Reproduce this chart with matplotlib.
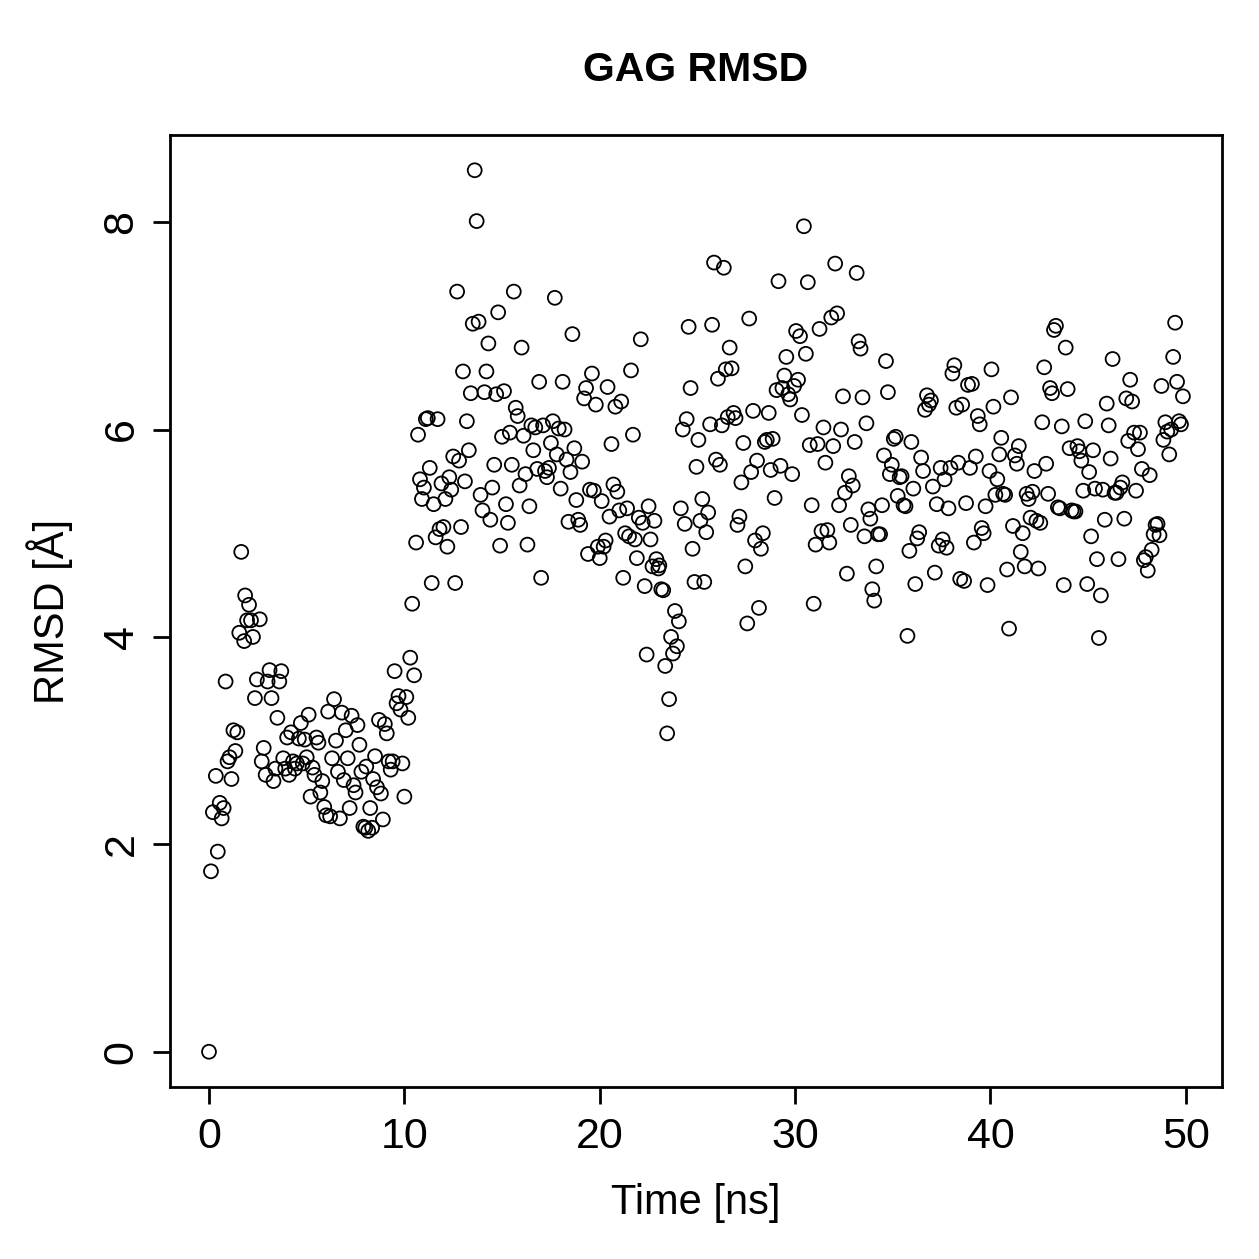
import matplotlib
matplotlib.use("Agg")
import matplotlib.pyplot as plt

time_ns = [0, 0.1, 0.2, 0.35, 0.45, 0.55, 0.65, 0.75, 0.85, 0.95, 1.05, 1.15, 1.25, 1.35, 1.45, 1.55, 1.65, 1.8, 1.85, 1.95,
           2.05, 2.15, 2.25, 2.35, 2.45, 2.6, 2.7, 2.8, 2.9, 3.0, 3.1, 3.2, 3.3, 3.4, 3.5, 3.6, 3.7, 3.8, 3.9, 4.0,
           4.1, 4.2, 4.3, 4.4, 4.5, 4.6, 4.7, 4.8, 4.9, 5.0, 5.1, 5.2, 5.3, 5.4, 5.5, 5.6, 5.7, 5.8, 5.9, 6.0,
           6.1, 6.2, 6.3, 6.4, 6.5, 6.6, 6.7, 6.8, 6.9, 7.0, 7.1, 7.2, 7.3, 7.4, 7.5, 7.6, 7.7, 7.8, 7.9, 8.0,
           8.05, 8.15, 8.25, 8.35, 8.4, 8.5, 8.6, 8.7, 8.8, 8.9, 9.0, 9.1, 9.2, 9.3, 9.4, 9.5, 9.6, 9.7, 9.8, 9.9,
           10.0, 10.1, 10.2, 10.3, 10.4, 10.5, 10.6, 10.7, 10.8, 10.9, 11.0, 11.1, 11.2, 11.3, 11.4, 11.5, 11.6, 11.7, 11.8, 11.9,
           12.0, 12.1, 12.2, 12.3, 12.4, 12.5, 12.6, 12.7, 12.8, 12.9, 13.0, 13.1, 13.2, 13.3, 13.4, 13.5, 13.6, 13.7, 13.8, 13.9,
           14.0, 14.1, 14.2, 14.3, 14.4, 14.5, 14.6, 14.7, 14.8, 14.9, 15.0, 15.1, 15.2, 15.3, 15.4, 15.5, 15.6, 15.7, 15.8, 15.9,
           16.0, 16.1, 16.2, 16.3, 16.4, 16.5, 16.6, 16.7, 16.8, 16.9, 17.0, 17.1, 17.2, 17.3, 17.4, 17.5, 17.6, 17.7, 17.8, 17.9,
           18.0, 18.1, 18.2, 18.3, 18.4, 18.5, 18.6, 18.7, 18.8, 18.9, 19.0, 19.1, 19.2, 19.3, 19.4, 19.5, 19.6, 19.7, 19.8, 19.9,
           20.0, 20.1, 20.2, 20.3, 20.4, 20.5, 20.6, 20.7, 20.8, 20.9, 21.0, 21.1, 21.2, 21.3, 21.4, 21.5, 21.6, 21.7, 21.8, 21.9,
           22.0, 22.1, 22.2, 22.3, 22.4, 22.5, 22.6, 22.7, 22.8, 22.9, 23.0, 23.05, 23.15, 23.25, 23.35, 23.45, 23.55, 23.65, 23.75, 23.85,
           23.95, 24.05, 24.15, 24.25, 24.35, 24.45, 24.55, 24.65, 24.75, 24.85, 24.95, 25.05, 25.15, 25.25, 25.35, 25.45, 25.55, 25.65, 25.75, 25.85,
           25.95, 26.05, 26.15, 26.25, 26.35, 26.45, 26.55, 26.65, 26.75, 26.85, 26.95, 27.05, 27.15, 27.25, 27.35, 27.45, 27.55, 27.65, 27.75, 27.85,
           27.95, 28.05, 28.15, 28.25, 28.35, 28.45, 28.55, 28.65, 28.75, 28.85, 28.95, 29.05, 29.15, 29.25, 29.35, 29.45, 29.55, 29.65, 29.75, 29.85,
           29.95, 30.05, 30.15, 30.25, 30.35, 30.45, 30.55, 30.65, 30.75, 30.85, 30.95, 31.05, 31.15, 31.25, 31.35, 31.45, 31.55, 31.65, 31.75, 31.85,
           31.95, 32.05, 32.15, 32.25, 32.35, 32.45, 32.55, 32.65, 32.75, 32.85, 32.95, 33.05, 33.15, 33.25, 33.35, 33.45, 33.55, 33.65, 33.75, 33.85,
           33.95, 34.05, 34.15, 34.25, 34.35, 34.45, 34.55, 34.65, 34.75, 34.85, 34.95, 35.05, 35.15, 35.25, 35.35, 35.45, 35.55, 35.65, 35.75, 35.85,
           35.95, 36.05, 36.15, 36.25, 36.35, 36.45, 36.55, 36.65, 36.75, 36.85, 36.95, 37.05, 37.15, 37.25, 37.35, 37.45, 37.55, 37.65, 37.75, 37.85,
           37.95, 38.05, 38.15, 38.25, 38.35, 38.45, 38.55, 38.65, 38.75, 38.85, 38.95, 39.05, 39.15, 39.25, 39.35, 39.45, 39.55, 39.65, 39.75, 39.85,
           39.95, 40.05, 40.15, 40.25, 40.35, 40.45, 40.55, 40.65, 40.75, 40.85, 40.95, 41.05, 41.15, 41.25, 41.35, 41.45, 41.55, 41.65, 41.75, 41.85,
           41.95, 42.05, 42.15, 42.25, 42.35, 42.45, 42.55, 42.65, 42.75, 42.85, 42.95, 43.05, 43.15, 43.25, 43.35, 43.45, 43.55, 43.65, 43.75, 43.85,
           43.95, 44.05, 44.15, 44.25, 44.35, 44.45, 44.55, 44.65, 44.75, 44.85, 44.95, 45.05, 45.15, 45.25, 45.35, 45.45, 45.55, 45.65, 45.75, 45.85,
           45.95, 46.05, 46.15, 46.25, 46.35, 46.45, 46.55, 46.65, 46.75, 46.85, 46.95, 47.05, 47.15, 47.25, 47.35, 47.45, 47.55, 47.65, 47.75, 47.85,
           47.95, 48.05, 48.15, 48.25, 48.35, 48.45, 48.55, 48.65, 48.75, 48.85, 48.95, 49.05, 49.15, 49.25, 49.35, 49.45, 49.55, 49.65, 49.75, 49.85]

rmsd = [0.0, 1.74, 2.31, 2.66, 1.93, 2.40, 2.25, 2.35, 3.57, 2.80, 2.84, 2.63, 3.10, 2.90, 3.08, 4.04, 4.82, 3.96, 4.40, 4.16,
        4.31, 4.16, 4.00, 3.41, 3.59, 4.17, 2.80, 2.93, 2.67, 3.57, 3.68, 3.41, 2.61, 2.73, 3.22, 3.57, 3.67, 2.83, 2.73, 3.03,
        2.67, 3.08, 2.80, 2.73, 2.78, 3.02, 3.17, 2.78, 3.01, 2.84, 3.25, 2.46, 2.74, 2.67, 3.03, 2.98, 2.50, 2.61, 2.36, 2.28,
        3.28, 2.27, 2.83, 3.40, 3.00, 2.70, 2.25, 3.27, 2.62, 3.10, 2.83, 2.35, 3.24, 2.57, 2.50, 3.15, 2.96, 2.70, 2.17, 2.16,
        2.75, 2.13, 2.35, 2.16, 2.63, 2.85, 2.55, 3.20, 2.49, 2.24, 3.16, 3.07, 2.80, 2.72, 2.80, 3.67, 3.36, 3.43, 3.30, 2.78,
        2.46, 3.42, 3.22, 3.80, 4.32, 3.63, 4.91, 5.95, 5.52, 5.33, 5.44, 6.10, 6.11, 5.63, 4.52, 5.28, 4.96, 6.10, 5.04, 5.48,
        5.06, 5.33, 4.87, 5.54, 5.42, 5.74, 4.52, 7.33, 5.70, 5.06, 6.56, 5.50, 6.08, 5.80, 6.35, 7.02, 8.50, 8.01, 7.04, 5.37,
        5.22, 6.36, 6.56, 6.83, 5.13, 5.44, 5.66, 6.34, 7.13, 4.88, 5.93, 6.37, 5.28, 5.10, 5.97, 5.66, 7.33, 6.21, 6.13, 5.46,
        6.79, 5.94, 5.57, 4.89, 5.26, 6.04, 5.80, 6.02, 5.62, 6.46, 4.57, 6.04, 5.60, 5.54, 5.63, 5.87, 6.08, 7.27, 5.76, 6.01,
        5.43, 6.46, 6.00, 5.71, 5.11, 5.59, 6.92, 5.82, 5.32, 5.13, 5.08, 5.69, 6.30, 6.40, 4.80, 5.42, 6.54, 5.41, 6.24, 4.87,
        4.76, 5.31, 4.87, 4.93, 6.41, 5.16, 5.86, 5.47, 6.22, 5.40, 5.22, 6.27, 4.57, 5.00, 5.24, 4.97, 6.57, 5.95, 4.94, 4.76,
        5.15, 6.87, 5.10, 4.49, 3.83, 5.26, 4.94, 4.68, 5.12, 4.75, 4.66, 4.69, 4.46, 4.45, 3.72, 3.07, 3.40, 4.00, 3.84, 4.25,
        3.91, 4.15, 5.24, 6.00, 5.09, 6.10, 6.99, 6.40, 4.85, 4.53, 5.64, 5.90, 5.12, 5.33, 4.53, 5.01, 5.20, 6.05, 7.01, 7.61,
        5.71, 6.49, 5.66, 6.04, 7.56, 6.58, 6.12, 6.79, 6.59, 6.16, 6.11, 5.08, 5.16, 5.49, 5.87, 4.68, 4.13, 7.07, 5.59, 6.18,
        4.93, 5.70, 4.28, 4.85, 5.00, 5.88, 5.90, 6.16, 5.61, 5.91, 5.34, 6.38, 7.43, 5.65, 6.40, 6.52, 6.70, 6.34, 6.29, 5.57,
        6.42, 6.95, 6.48, 6.90, 6.14, 7.96, 6.73, 7.42, 5.85, 5.27, 4.32, 4.89, 5.86, 6.97, 5.02, 6.02, 5.68, 5.03, 4.91, 7.08,
        5.84, 7.60, 7.12, 5.27, 6.00, 6.32, 5.39, 4.61, 5.55, 5.08, 5.46, 5.88, 7.51, 6.85, 6.78, 6.31, 4.97, 6.06, 5.23, 5.14,
        4.46, 4.35, 4.68, 4.99, 4.99, 5.27, 5.75, 6.66, 6.36, 5.57, 5.66, 5.91, 5.93, 5.36, 5.54, 5.55, 5.27, 5.26, 4.01, 4.83,
        5.88, 5.43, 4.51, 4.95, 5.01, 5.73, 5.60, 6.19, 6.33, 6.24, 6.28, 5.45, 4.62, 5.28, 4.88, 5.63, 4.94, 5.52, 4.86, 5.24,
        5.63, 6.54, 6.62, 6.21, 5.68, 4.56, 6.24, 4.54, 5.29, 6.43, 5.63, 6.44, 4.91, 5.74, 6.13, 6.05, 5.05, 5.00, 5.26, 4.50,
        5.60, 6.58, 6.22, 5.37, 5.52, 5.76, 5.92, 5.38, 5.37, 4.65, 4.08, 6.31, 5.07, 5.75, 5.67, 5.84, 4.82, 5.00, 4.68, 5.38,
        5.33, 5.15, 5.40, 5.60, 5.12, 4.66, 5.10, 6.07, 6.60, 5.67, 5.38, 6.40, 6.35, 6.96, 7.00, 5.25, 5.24, 6.03, 4.50, 6.79,
        6.39, 5.82, 5.22, 5.21, 5.21, 5.84, 5.79, 5.70, 5.41, 6.08, 4.51, 5.59, 4.97, 5.80, 5.43, 4.75, 3.99, 4.40, 5.42, 5.13,
        6.25, 6.04, 5.72, 6.68, 5.39, 5.39, 4.75, 5.44, 5.49, 5.14, 6.30, 5.89, 6.48, 6.27, 5.97, 5.41, 5.81, 5.97, 5.62, 4.74,
        4.77, 4.64, 5.56, 4.84, 4.99, 5.08, 5.09, 4.98, 6.42, 5.90, 6.07, 5.98, 5.76, 6.00, 6.70, 7.03, 6.46, 6.08, 6.05, 6.32]

x_ticks = [0, 10, 20, 30, 40, 50]
y_ticks = [0, 2, 4, 6, 8]
title = "GAG RMSD"
x_label = "Time [ns]"
y_label = "RMSD [Å]"

plt.rcParams['font.family'] = ['Liberation Sans', 'DejaVu Sans']

fig = plt.figure(figsize=(12.59, 12.59), dpi=100)
ax = fig.add_axes([170/1259, 1 - 1087/1259, (1222-170)/1259, (1087-135)/1259])

ax.scatter(time_ns, rmsd, s=10.0**2, facecolors='none', edgecolors='black', linewidths=1.3)

ax.set_xlim(-1.996, 51.85)
ax.set_ylim(-0.34, 8.84)
ax.set_xticks(x_ticks)
ax.set_yticks(y_ticks)
ax.tick_params(axis='both', direction='out', length=12, width=2.0, labelsize=31, colors='black')
ax.tick_params(axis='x', pad=9.5)
ax.tick_params(axis='y', pad=8.5)
for lbl in ax.get_yticklabels():
    lbl.set_rotation(90)
    lbl.set_va('center')
for s in ax.spines.values():
    s.set_linewidth(2.0)

ax.set_xlabel(x_label, fontsize=30, va='center')
ax.xaxis.set_label_coords(0.5, (1087 - 1203) / 952)
ax.set_ylabel(y_label, fontsize=30, va='center')
ax.yaxis.set_label_coords((50 - 170) / 1052, 0.5)
fig.text(696/1259, 1 - 70/1259, title, fontsize=29.5, fontweight='bold', ha='center', va='center')

fig.savefig("out.png", dpi=100)
